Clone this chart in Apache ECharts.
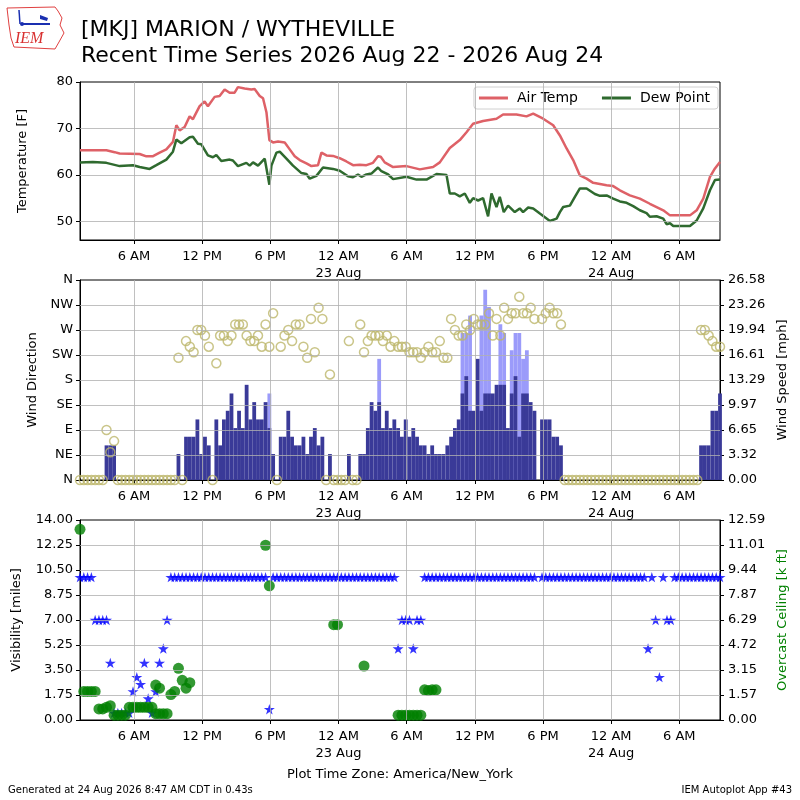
<!DOCTYPE html>
<html>
<head>
<meta charset="utf-8">
<script src="https://cdn.jsdelivr.net/npm/echarts@6/dist/echarts.min.js"></script>
<style>
html, body { margin: 0; padding: 0; background: #fff; }
#chart { width: 800px; height: 800px; }
</style>
</head>
<body>
<div id="chart"></div>
<script>
// hours since 22 Aug 00:00 (America/New_York)
var timeMin = 1.25;          // first ob 01:15
var timeMax = 57.5833;       // last ob 09:35 on 24 Aug
var obsStart = 1.25;         // obs every 20 minutes (:15 :35 :55)

var timeTicks = [6, 12, 18, 24, 30, 36, 42, 48, 54];
var timeTickLabels = ['6 AM', '12 PM', '6 PM', '12 AM\n23 Aug', '6 AM', '12 PM', '6 PM', '12 AM\n24 Aug', '6 AM'];
var tempTicks = [50, 60, 70, 80];
var dirTickLabels = ['N', 'NE', 'E', 'SE', 'S', 'SW', 'W', 'NW', 'N'];
var speedTickLabels = ['0.00', '3.32', '6.65', '9.97', '13.29', '16.61', '19.94', '23.26', '26.58'];
var ceilTickLabels = ['0.00', '1.57', '3.15', '4.72', '6.29', '7.87', '9.44', '11.01', '12.59'];

// [hour, F]
var airTemp = [
  [1.25,65.3],[3.57,65.3],[4.30,64.9],[4.74,64.6],[6.50,64.5],[7.09,64.0],[7.64,64.0],[8.26,64.8],
  [8.85,65.5],[9.43,67.1],[9.73,70.7],[10.02,69.6],[10.46,70.3],[10.90,72.6],[11.19,72.0],[11.78,74.8],
  [12.22,75.8],[12.51,74.8],[13.10,76.8],[13.54,77.0],[13.98,78.4],[14.42,77.7],[14.86,77.7],[15.15,78.9],
  [15.74,78.6],[15.89,79.0],[16.33,78.4],[16.62,78.5],[17.07,77.0],[17.36,76.5],[17.66,73.5],[17.92,67.5],
  [18.24,67.0],[18.68,67.2],[19.27,67.0],[19.71,65.5],[20.15,64.0],[20.59,63.2],[21.18,62.5],[21.62,61.9],
  [22.20,62.1],[22.50,64.8],[22.94,64.2],[23.52,64.1],[24.11,63.6],[24.70,62.9],[25.28,62.1],[25.87,62.2],
  [26.46,62.1],[27.04,62.6],[27.48,64.0],[27.72,63.9],[28.07,62.7],[28.81,61.7],[29.99,61.9],[31.16,61.2],
  [32.33,61.7],[32.92,62.7],[33.80,65.8],[34.68,67.5],[35.27,69.2],[35.85,71.0],[36.73,71.6],[37.91,72.1],
  [38.49,73.0],[39.67,73.0],[40.55,72.6],[41.14,73.2],[42.02,72.1],[42.90,70.7],[43.49,68.5],[44.08,65.7],
  [44.66,63.2],[45.25,59.9],[45.84,59.2],[46.42,58.3],[47.60,57.8],[48.18,57.6],[48.77,56.7],[49.65,55.6],
  [50.53,54.9],[51.41,53.8],[52.00,53.1],[52.59,52.4],[53.18,51.3],[54.94,51.3],[55.53,52.4],[56.11,54.9],
  [56.70,59.6],[57.14,61.4],[57.58,62.8]
];
var dewPoint = [
  [1.25,62.7],[2.38,62.8],[3.57,62.6],[4.74,61.9],[5.91,62.1],[6.50,61.7],[7.38,61.3],[7.97,62.1],
  [8.85,63.3],[9.43,65.0],[9.73,67.6],[10.17,66.8],[10.90,68.1],[11.19,68.2],[11.63,66.7],[11.93,66.6],
  [12.51,64.2],[12.95,63.8],[13.25,64.3],[13.69,63.0],[14.42,63.3],[14.71,63.1],[15.15,61.9],[15.89,62.6],
  [16.19,62.0],[16.48,62.7],[16.92,62.0],[17.51,63.5],[17.92,57.9],[18.10,62.0],[18.54,64.8],[18.83,65.0],
  [19.42,63.5],[20.00,62.0],[20.74,60.4],[21.18,60.2],[21.47,59.2],[22.06,59.8],[22.64,61.6],[23.52,61.3],
  [24.11,60.9],[24.84,59.7],[25.28,59.5],[25.72,60.1],[26.02,59.6],[26.46,60.1],[26.90,60.3],[27.48,61.6],
  [27.78,60.8],[28.37,60.1],[28.81,59.1],[29.99,59.6],[30.87,59.0],[31.75,59.0],[32.63,60.2],[33.51,60.0],
  [33.80,56.0],[34.24,56.0],[34.68,55.4],[35.12,56.0],[35.56,54.0],[35.85,55.0],[36.29,54.5],[36.73,55.0],
  [37.17,51.1],[37.47,56.0],[37.91,53.1],[38.20,55.3],[38.55,52.0],[38.93,53.4],[39.52,52.0],[39.96,52.8],
  [40.25,52.0],[40.70,53.0],[41.14,52.8],[41.73,51.7],[42.61,50.1],[43.20,50.6],[43.49,52.0],[43.78,53.1],
  [44.37,53.4],[44.81,55.3],[45.25,57.1],[45.84,57.1],[46.57,55.9],[47.01,55.5],[47.60,55.6],[48.18,54.9],
  [48.77,54.3],[49.36,54.0],[49.94,53.3],[50.53,52.4],[51.12,51.8],[51.41,51.0],[52.00,51.1],[52.59,50.6],
  [52.88,49.4],[53.18,49.6],[53.47,49.0],[54.94,49.0],[55.53,50.2],[56.11,52.8],[56.70,56.7],[57.14,58.9],
  [57.58,59.0]
];

// one value per 20-minute ob, ten per row
var windSpeed = [
  0,0,0,0,0,0,0,4.6,4.6,4.6,
  0,0,0,0,0,0,0,0,0,0,
  0,0,0,0,0,0,3.45,0,5.75,5.75,
  5.75,8.05,3.45,5.75,4.6,0,8.05,4.6,8.05,9.2,
  11.5,6.9,9.2,6.9,12.65,8.05,10.35,8.05,8.05,10.35,
  6.9,3.45,0,5.75,5.75,9.2,5.75,4.6,4.6,5.75,
  3.45,5.75,6.9,4.6,5.75,0,3.45,0,0,0,
  0,3.45,0,0,3.45,3.45,6.9,10.35,9.2,10.35,
  6.9,9.2,6.9,8.05,6.9,5.75,8.05,5.75,6.9,5.75,
  4.6,4.6,3.45,4.6,3.45,3.45,3.45,4.6,5.75,6.9,
  8.05,11.5,13.8,9.2,9.2,16.1,9.2,11.5,11.5,11.5,
  12.65,12.65,12.65,6.9,11.5,13.8,5.75,11.5,11.5,10.35,
  9.2,null,8.05,8.05,8.05,5.75,5.75,4.6,0,0,
  0,0,0,0,0,0,0,0,0,0,
  0,0,0,0,0,0,0,0,0,0,
  0,0,0,0,0,0,0,0,0,0,
  0,0,0,0,4.6,4.6,4.6,9.2,9.2,11.5
];
var windGust = [
  null,null,null,null,null,null,null,null,null,null,
  null,null,null,null,null,null,null,null,null,null,
  null,null,null,null,null,null,null,null,null,null,
  null,null,null,null,null,null,null,null,null,null,
  null,null,null,null,null,null,null,null,null,null,
  11.5,null,null,null,null,null,null,null,null,null,
  null,null,null,null,null,null,null,null,null,null,
  null,null,null,null,null,null,null,null,null,16.1,
  null,null,null,null,null,null,null,null,null,null,
  null,null,null,null,null,null,null,null,null,null,
  null,19.55,19.55,21.85,null,null,21.85,25.3,23.0,null,
  null,20.7,19.55,null,17.25,19.55,19.55,16.1,17.25,null,
  null,null,null,null,null,null,null,null,null,null,
  null,null,null,null,null,null,null,null,null,null,
  null,null,null,null,null,null,null,null,null,null,
  null,null,null,null,null,null,null,null,null,null,
  null,null,null,null,null,null,null,null,null,null
];
var windDir = [
  0,0,0,0,0,0,0,90,50,70,
  0,0,0,0,0,0,0,0,0,0,
  0,0,0,0,0,0,220,0,250,240,
  230,270,270,260,240,0,210,260,260,250,
  260,280,280,280,260,250,250,260,240,280,
  240,300,0,240,260,270,250,280,280,240,
  220,290,230,310,290,0,190,0,0,0,
  0,250,0,0,280,230,250,260,260,260,
  250,260,240,250,240,240,240,230,230,230,
  220,230,240,230,230,250,220,220,290,270,
  260,260,280,270,290,280,280,280,300,260,
  290,260,310,290,300,300,330,300,300,310,
  290,null,290,300,310,300,300,280,0,0,
  0,0,0,0,0,0,0,0,0,0,
  0,0,0,0,0,0,0,0,0,0,
  0,0,0,0,0,0,0,0,0,0,
  0,0,0,0,270,270,260,250,240,240
];
var visibility = [
  10,10,10,10,7,7,7,7,4,0.5,
  0.5,0.5,0.5,0.5,2,3,2.5,4,1.5,0.5,
  2,4,5,7,10,10,10,10,10,10,
  10,10,10,10,10,10,10,10,10,10,
  10,10,10,10,10,10,10,10,10,10,
  0.75,10,10,10,10,10,10,10,10,10,
  10,10,10,10,10,10,10,10,10,10,
  10,10,10,10,10,10,10,10,10,10,
  10,10,10,10,5,7,7,7,5,7,
  7,10,10,10,10,10,10,10,10,10,
  10,10,10,10,10,10,10,10,10,10,
  10,10,10,10,10,10,10,10,10,10,
  10,null,10,10,10,10,10,10,10,10,
  10,10,10,10,10,10,10,10,10,10,
  10,10,10,10,10,10,10,10,10,10,
  5,10,7,3,10,7,7,10,10,10,
  10,10,10,10,10,10,10,10,10,10
];
// [hour, k ft]
var ceiling = [
  [1.25,12.0],[1.583,1.8],[1.917,1.8],[2.25,1.8],[2.583,1.8],[2.917,0.7],[3.25,0.7],[3.583,0.8],
  [3.917,0.9],[4.25,0.3],[4.583,0.3],[4.917,0.3],[5.25,0.3],[5.583,0.8],[5.917,0.8],[6.25,0.8],
  [6.583,0.8],[6.917,0.8],[7.25,0.8],[7.583,0.8],[7.917,2.2],[8.25,2.0],[7.917,0.4],[8.25,0.4],
  [8.583,0.4],[8.917,0.4],[9.25,1.6],[9.583,1.8],[9.917,3.25],[10.25,2.5],[10.583,2.0],[10.917,2.35],
  [17.583,11.0],[17.917,8.45],[23.583,6.0],[23.917,6.0],[26.25,3.4],
  [29.25,0.3],[29.583,0.3],[29.917,0.3],[30.25,0.3],[30.583,0.3],[30.917,0.3],[31.25,0.3],
  [31.583,1.9],[31.917,1.85],[32.25,1.9],[32.583,1.9]
];

function obsPairs(vals) {
  var out = [];
  for (var k = 0; k < vals.length; k++) {
    if (vals[k] !== null) out.push([obsStart + k / 3, vals[k]]);
  }
  return out;
}

var gridColor = '#b0b0b0';
var font = 'DejaVu Sans';

function timeAxis(gi) {
  return {
    type: 'value', gridIndex: gi, min: timeMin, max: timeMax,
    axisLine: { show: true, onZero: false, lineStyle: { color: '#000' } },
    axisTick: { show: true, customValues: timeTicks, length: 4, lineStyle: { color: '#000' } },
    axisLabel: {
      customValues: timeTicks, color: '#000', fontSize: 13, margin: 8, lineHeight: 17,
      formatter: function (v) { var i = timeTicks.indexOf(v); return i < 0 ? '' : timeTickLabels[i]; }
    },
    splitLine: { show: false }
  };
}

function valAxis(gi, pos, opts) {
  var a = {
    type: 'value', gridIndex: gi, position: pos,
    axisLine: { show: true, onZero: false, lineStyle: { color: '#000' } },
    axisTick: { show: true, length: 4, lineStyle: { color: '#000' } },
    axisLabel: { color: '#000', fontSize: 13, margin: pos === 'left' ? 7 : 8 },
    splitLine: { show: false },
    nameLocation: 'middle', nameRotate: 90,
    nameTextStyle: { color: '#000', fontSize: 13 }
  };
  for (var key in opts) {
    if (typeof opts[key] === 'object' && a[key] && typeof a[key] === 'object') {
      for (var k2 in opts[key]) a[key][k2] = opts[key][k2];
    } else {
      a[key] = opts[key];
    }
  }
  return a;
}

function gridLines(xi, yi, yVals, z) {
  var d = timeTicks.map(function (t) { return { xAxis: t }; });
  yVals.forEach(function (v) { d.push({ yAxis: v }); });
  return {
    type: 'line', xAxisIndex: xi, yAxisIndex: yi, data: [], z: z, silent: true,
    markLine: {
      silent: true, symbol: ['none', 'none'], label: { show: false },
      lineStyle: { color: gridColor, width: 0.8, type: 'solid' },
      emphasis: { disabled: true }, animation: false, data: d
    }
  };
}

var starPath = 'path://M50,0 L61,35 L98,35 L68,57 L79,91 L50,70 L21,91 L32,57 L2,35 L39,35 Z';

var option = {
  animation: false,
  backgroundColor: '#fff',
  textStyle: { fontFamily: font },
  grid: [
    { left: 80, top: 82, width: 640, height: 158, show: true, borderColor: '#000', borderWidth: 1, backgroundColor: 'transparent' },
    { left: 80, top: 280, width: 640, height: 200, show: true, borderColor: '#000', borderWidth: 1, backgroundColor: 'transparent' },
    { left: 80, top: 520, width: 640, height: 200, show: true, borderColor: '#000', borderWidth: 1, backgroundColor: 'transparent' }
  ],
  xAxis: [timeAxis(0), timeAxis(1), timeAxis(2)],
  yAxis: [
    valAxis(0, 'left', {
      min: 46, max: 80, name: 'Temperature [F]', nameGap: 51,
      axisLabel: { customValues: tempTicks },
      axisTick: { customValues: tempTicks }
    }),
    valAxis(1, 'left', {
      min: 0, max: 360, interval: 45, name: 'Wind Direction', nameGap: 41,
      axisLabel: { formatter: function (v) { return dirTickLabels[Math.round(v / 45)]; } }
    }),
    valAxis(1, 'right', {
      min: 0, max: 26.58, interval: 26.58 / 8, name: 'Wind Speed [mph]', nameGap: 55,
      axisLabel: { formatter: function (v) { return speedTickLabels[Math.round(v / (26.58 / 8))]; } }
    }),
    valAxis(2, 'left', {
      min: 0, max: 14, interval: 1.75, name: 'Visibility [miles]', nameGap: 57,
      axisLabel: { formatter: function (v) { return v.toFixed(2); } }
    }),
    valAxis(2, 'right', {
      min: 0, max: 12.59, interval: 12.59 / 8, name: 'Overcast Ceiling [k ft]', nameGap: 55,
      nameTextStyle: { color: '#008000' },
      axisLabel: { formatter: function (v) { return ceilTickLabels[Math.round(v / (12.59 / 8))]; } }
    })
  ],
  legend: {
    data: ['Air Temp', 'Dew Point'],
    right: 82, top: 87, orient: 'horizontal',
    icon: 'rect', itemWidth: 29, itemHeight: 3, itemGap: 24,
    textStyle: { fontSize: 14, color: '#000', padding: [0, 0, 0, 4] },
    borderColor: '#d0d0d0', borderWidth: 1, borderRadius: 3,
    padding: [4, 8, 4, 5], backgroundColor: 'rgba(255,255,255,0.8)'
  },
  graphic: [
    { type: 'polygon', shape: { points: [[7,8],[55,7],[58,11],[62,18],[60,25],[64,33],[59,42],[55,49],[14,47],[11,38],[9,25]] },
      style: { fill: 'none', stroke: '#e04040', lineWidth: 1 } },
    { type: 'polyline', shape: { points: [[19,10],[20,24]] }, style: { stroke: '#1a2fb0', lineWidth: 1.5 } },
    { type: 'polyline', shape: { points: [[22,24],[50,24]] }, style: { stroke: '#1a2fb0', lineWidth: 2 } },
    { type: 'polygon', shape: { points: [[40,15],[48,18],[47,21],[40,19]] }, style: { fill: '#1a2fb0' } },
    { type: 'circle', shape: { cx: 22, cy: 24, r: 2 }, style: { fill: '#1a2fb0' } },
    { type: 'text', style: { x: 15, y: 39, text: 'IEM', font: 'italic 16px "Liberation Serif"', fill: '#d83030', textVerticalAlign: 'middle' } },
    { type: 'text', style: { x: 81, y: 30, text: '[MKJ] MARION / WYTHEVILLE', font: '22px "DejaVu Sans"', fill: '#000', textVerticalAlign: 'middle' } },
    { type: 'text', style: { x: 81, y: 56, text: 'Recent Time Series 2026 Aug 22 - 2026 Aug 24', font: '22px "DejaVu Sans"', fill: '#000', textVerticalAlign: 'middle' } },
    { type: 'text', style: { x: 400, y: 775, text: 'Plot Time Zone: America/New_York', font: '13px "DejaVu Sans"', fill: '#000', textAlign: 'center', textVerticalAlign: 'middle' } },
    { type: 'text', style: { x: 8, y: 790, text: 'Generated at 24 Aug 2026 8:47 AM CDT in 0.43s', font: '10px "DejaVu Sans"', fill: '#000', textVerticalAlign: 'middle' } },
    { type: 'text', style: { x: 792, y: 790, text: 'IEM Autoplot App #43', font: '10px "DejaVu Sans"', fill: '#000', textAlign: 'right', textVerticalAlign: 'middle' } }
  ],
  series: [
    gridLines(0, 0, [50, 60, 70], 1),
    {
      name: 'Air Temp', type: 'line', xAxisIndex: 0, yAxisIndex: 0, data: airTemp,
      showSymbol: false, symbol: 'none', z: 3,
      lineStyle: { color: '#de6167', width: 2.5 }, itemStyle: { color: '#de6167' }
    },
    {
      name: 'Dew Point', type: 'line', xAxisIndex: 0, yAxisIndex: 0, data: dewPoint,
      showSymbol: false, symbol: 'none', z: 3,
      lineStyle: { color: '#2f6a2f', width: 2.5 }, itemStyle: { color: '#2f6a2f' }
    },
    {
      name: 'Gust', type: 'bar', xAxisIndex: 1, yAxisIndex: 2, data: obsPairs(windGust),
      barWidth: 3.8, barGap: '-100%', z: 2, itemStyle: { color: '#9b9bfa' }
    },
    {
      name: 'Wind Speed', type: 'bar', xAxisIndex: 1, yAxisIndex: 2, data: obsPairs(windSpeed),
      barWidth: 3.8, barGap: '-100%', z: 2, itemStyle: { color: '#3a3a98' }
    },
    gridLines(1, 1, [45, 90, 135, 180, 225, 270, 315], 3),
    {
      name: 'Wind Direction', type: 'scatter', xAxisIndex: 1, yAxisIndex: 1, data: obsPairs(windDir),
      symbol: 'circle', symbolSize: 9, z: 4,
      itemStyle: { color: 'rgba(0,0,0,0)', borderColor: '#bdb76b', borderWidth: 1.5 }
    },
    gridLines(2, 3, [1.75, 3.5, 5.25, 7, 8.75, 10.5, 12.25], 1),
    {
      name: 'Visibility', type: 'scatter', xAxisIndex: 2, yAxisIndex: 3, data: obsPairs(visibility),
      symbol: starPath, symbolSize: 11, symbolKeepAspect: true, z: 3,
      itemStyle: { color: '#0000ff' }
    },
    {
      name: 'Ceiling', type: 'scatter', xAxisIndex: 2, yAxisIndex: 4, data: ceiling,
      symbol: 'circle', symbolSize: 11, z: 4,
      itemStyle: { color: '#008000' }
    }
  ]
};

var chart = echarts.init(document.getElementById('chart'));
chart.setOption(option);
</script>
</body>
</html>
